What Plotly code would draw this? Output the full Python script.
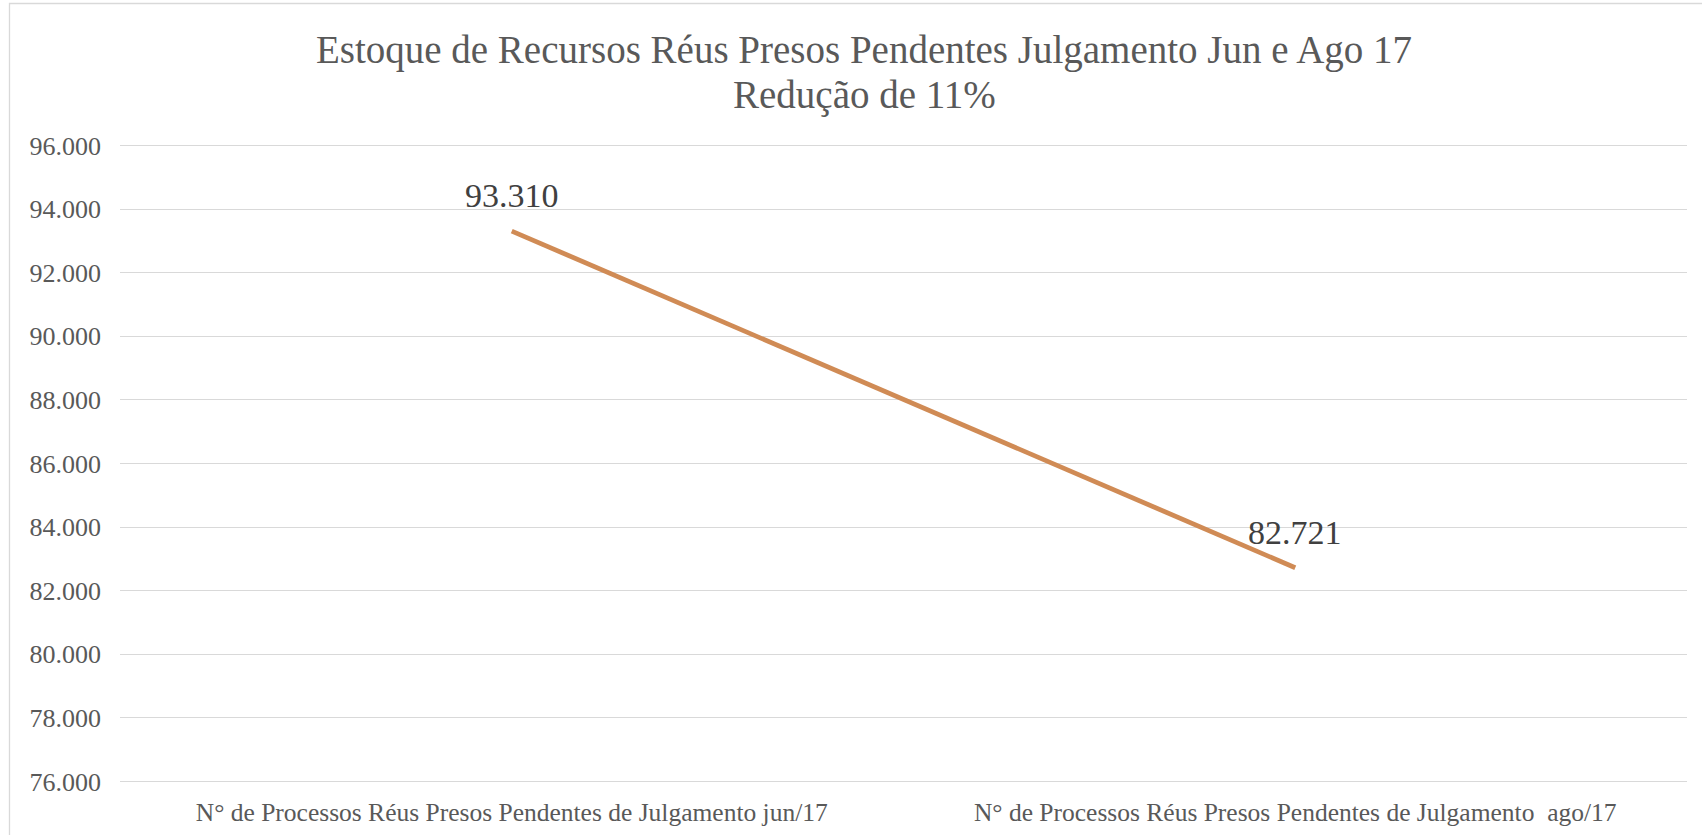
import plotly.graph_objects as go

categories = [
    "N° de Processos Réus Presos Pendentes de Julgamento jun/17",
    "N° de Processos Réus Presos Pendentes de Julgamento\u00a0 ago/17",
]
values = [93310, 82721]
title_line1 = "Estoque de Recursos Réus Presos Pendentes Julgamento Jun e Ago 17"
title_line2 = "Redução de 11%"
y_min, y_max, y_step = 76000, 96000, 2000
y_pad = 50

W, H = 1702, 835
L, R, T, B = 120, 15, 144, 52
plot_w = W - L - R
plot_h = H - T - B

FONT = "Liberation Serif"


def px_x(px):
    return (px - L) / plot_w


def px_y(py):
    return (H - B - py) / plot_h


def fmt(v):
    return f"{v:,d}".replace(",", ".")


fig = go.Figure()
fig.add_trace(go.Scatter(
    x=categories, y=values,
    mode="lines",
    line=dict(color="#D08B55", width=4.8),
    hoverinfo="skip",
    showlegend=False,
))

annotations = [dict(text=title_line2, x=px_x(864), y=px_y(119), xref="paper", yref="paper",
                    xanchor="center", yanchor="bottom", showarrow=False,
                    font=dict(family=FONT, size=39, color="#595959"))]
for c, v in zip(categories, values):
    annotations.append(dict(
        x=c, y=v, xref="x", yref="y", text=fmt(v), showarrow=False,
        xanchor="center", yanchor="bottom", yshift=15,
        font=dict(family=FONT, size=34, color="#404040"),
    ))

fig.update_layout(
    width=W, height=H,
    margin=dict(l=L, r=R, t=T, b=B),
    paper_bgcolor="white",
    plot_bgcolor="white",
    separators=",.",
    font=dict(family=FONT, color="#595959"),
    title=dict(text=title_line1, x=864 / W, xanchor="center", xref="container",
               y=1 - 36 / H, yanchor="top", yref="container",
               font=dict(family=FONT, size=39, color="#595959")),
    annotations=annotations,
    xaxis=dict(
        type="category",
        range=[-0.5, len(categories) - 0.5],
        showgrid=False, zeroline=False, showline=False,
        tickfont=dict(family=FONT, size=25.5, color="#595959"),
        ticklabelstandoff=11,
        automargin=False,
    ),
    yaxis=dict(
        range=[y_min - y_pad, y_max + y_pad], dtick=y_step, tick0=y_min,
        tickformat=",d",
        showgrid=True, gridcolor="#D9D9D9", gridwidth=1.3,
        zeroline=False, showline=False,
        tickfont=dict(family=FONT, size=26, color="#595959"),
        ticklabelstandoff=18,
        automargin=False,
    ),
    shapes=[dict(type="rect", xref="paper", yref="paper",
                 x0=px_x(9.5), x1=px_x(1705), y0=px_y(840), y1=px_y(3.5),
                 line=dict(color="#D9D9D9", width=1.3), layer="below")],
)

fig.write_html(
    "out.html",
    config={"displayModeBar": False},
    post_script="document.body.style.margin='0';document.body.style.overflow='hidden';",
)
